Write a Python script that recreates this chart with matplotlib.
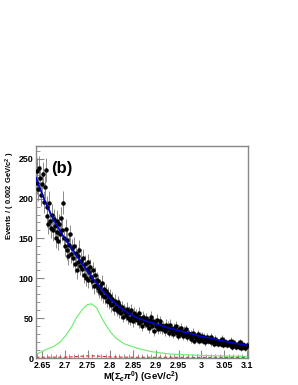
"""
Nachbau des Histogramms M(Sigma_c pi0) mit Fit-Kurven (Panel b).
"""

import numpy as np
import matplotlib.pyplot as plt

# Bin-Mitten (Breite 0.002 GeV/c^2)
bin_mitten = np.round(np.arange(2.638, 3.1005, 0.002), 3)

# Ereignisse pro Bin
ereignisse = [
    220, 235, 212, 238, 226, 205, 218, 231, 196, 214,
    236, 190, 178, 168, 195, 172, 163, 180, 160, 174,
    166, 150, 158, 172, 147, 168, 155, 176, 160, 195,
    150, 140, 162, 135, 148, 128, 142, 155, 130, 138,
    125, 140, 118, 132, 110, 128, 120, 136, 115, 122,
    112, 126, 104, 118, 100, 112, 120, 98, 108, 114,
    102, 96, 110, 90, 104, 92, 98, 88, 96, 84,
    90, 82, 94, 78, 86, 76, 84, 72, 80, 74,
    70, 78, 66, 74, 68, 62, 72, 64, 60, 70,
    58, 66, 62, 56, 64, 52, 60, 58, 54, 62,
    50, 58, 56, 48, 60, 52, 46, 56, 50, 54,
    48, 52, 44, 56, 50, 46, 40, 52, 48, 44,
    50, 42, 46, 38, 48, 44, 52, 40, 46, 34,
    44, 40, 48, 36, 42, 46, 38, 42, 36, 40,
    38, 34, 42, 36, 40, 32, 38, 42, 34, 36,
    30, 38, 34, 40, 32, 28, 36, 30, 34, 38,
    32, 28, 34, 30, 36, 26, 32, 30, 28, 24,
    30, 26, 32, 22, 28, 26, 24, 30, 22, 28,
    26, 24, 28, 22, 26, 20, 24, 26, 22, 24,
    22, 26, 20, 24, 22, 18, 24, 20, 22, 18,
    20, 22, 18, 24, 20, 16, 22, 18, 20, 16,
    18, 20, 16, 22, 14, 18, 20, 16, 18, 14,
    16, 18, 14, 20, 12, 16, 18, 14, 16, 12,
    14, 16,
]

# Gesamtfit (blau)
fit_x = [2.637, 2.65, 2.66, 2.67, 2.68, 2.69, 2.70, 2.71, 2.72, 2.73,
         2.74, 2.75, 2.76, 2.77, 2.78, 2.79, 2.80, 2.81, 2.82, 2.83,
         2.84, 2.85, 2.86, 2.88, 2.90, 2.92, 2.94, 2.96, 2.98, 3.00,
         3.02, 3.04, 3.06, 3.08, 3.10]
fit_y = [226, 206, 192, 180, 169, 159, 150, 142, 133, 125,
         117, 109, 101, 94, 87, 80, 74, 69, 64, 60,
         56, 53, 50, 46, 43, 39, 36, 33, 30, 27,
         25, 22, 20, 18, 16]

# Signal (gruen)
signal_x = [2.637, 2.65, 2.66, 2.674, 2.69, 2.703, 2.715, 2.725, 2.74, 2.75,
            2.759, 2.77, 2.785, 2.80, 2.812, 2.83, 2.858, 2.89, 2.931, 2.969,
            3.02, 3.10]
signal_y = [5, 8, 11, 14, 20, 29, 39, 50, 62, 67,
            68, 63, 46, 33, 25, 18, 12.5, 8, 5, 4,
            3, 2]

# Untergrund-Komponente (rot gestrichelt)
rot_x = [2.637, 2.70, 2.72, 2.74, 2.76, 2.78, 2.80, 2.84, 3.10]
rot_y = [1, 1.1, 1.6, 2.4, 2.8, 2.2, 1.4, 1, 0.8]


def main():
    """Hauptfunktion"""
    plt.rcParams['font.family'] = ['Liberation Sans', 'DejaVu Sans']
    plt.rcParams['mathtext.fontset'] = 'custom'
    plt.rcParams['mathtext.rm'] = 'Liberation Sans:bold'
    plt.rcParams['mathtext.it'] = 'Liberation Sans:bold:italic'
    plt.rcParams['mathtext.bf'] = 'Liberation Sans:bold'

    fig = plt.figure(figsize=(2.98, 3.85), dpi=100)
    ax = fig.add_axes([0.121, 0.070, 0.711, 0.551])

    fehler = np.sqrt(ereignisse)
    ax.errorbar(bin_mitten, ereignisse, yerr=fehler, fmt='o', color='black',
                ecolor='#777777', elinewidth=0.6, markersize=2.2, capsize=0, zorder=3)

    ax.plot(signal_x, signal_y, color='#66ee66', lw=0.8, zorder=2)
    ax.plot(rot_x, rot_y, color='#ee2222', lw=0.8, ls=(0, (3, 2)), zorder=2)
    ax.plot(fit_x, fit_y, color='#0000cc', lw=1.2, zorder=4)

    ax.set_xlim(2.637, 3.102)
    ax.set_ylim(0, 266)
    ax.set_xticks([2.65, 2.7, 2.75, 2.8, 2.85, 2.9, 2.95, 3.0, 3.05, 3.1])
    ax.set_xticklabels(['2.65', '2.7', '2.75', '2.8', '2.85', '2.9', '2.95', '3', '3.05', '3.1'])
    ax.set_xticks(np.arange(2.64, 3.101, 0.01), minor=True)
    ax.set_yticks([0, 50, 100, 150, 200, 250])
    ax.set_yticks(np.arange(0, 261, 10), minor=True)

    for seite in ax.spines.values():
        seite.set_color('#888888')
        seite.set_linewidth(1.0)
    ax.tick_params(which='both', direction='in', color='#888888', top=False, right=False)
    ax.tick_params(which='major', length=6, labelsize=6.4, pad=2)
    ax.tick_params(which='minor', length=3)
    for lbl in ax.get_xticklabels() + ax.get_yticklabels():
        lbl.set_fontweight('bold')

    ax.text(0.07, 0.93, '(b)', transform=ax.transAxes, fontsize=12,
            fontweight='bold', va='top', ha='left')

    fig.text(0.475, 0.021, r'M($\Sigma_c\pi^0$) (GeV/c$^2$)', fontsize=6.8,
             fontweight='bold', ha='center', va='center')
    fig.text(0.036, 0.605, r'Events / ( 0.002 GeV/c$^2$ )', fontsize=5.5,
             fontweight='bold', rotation=90, ha='center', va='top')

    fig.savefig('out.png', dpi=100)


if __name__ == "__main__":
    main()
